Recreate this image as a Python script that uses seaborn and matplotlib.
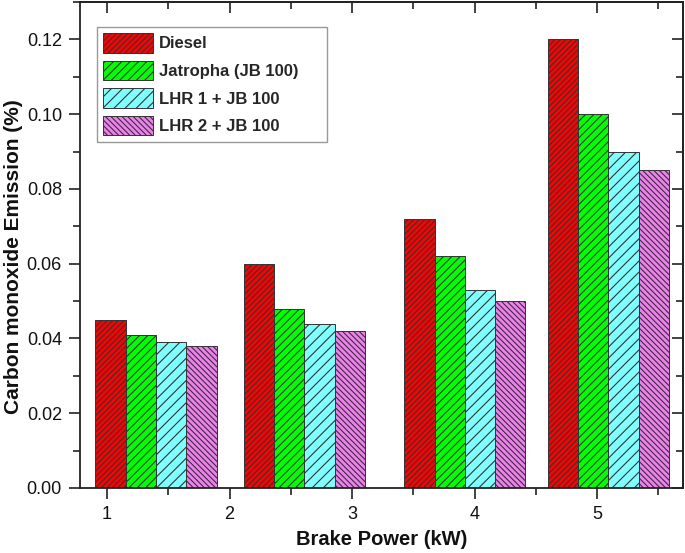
import numpy as np
import pandas as pd
import matplotlib
matplotlib.use("Agg")
import matplotlib.pyplot as plt
from matplotlib.ticker import MultipleLocator
import seaborn as sns

# --- data ---
brake_power = [1.40, 2.61, 3.92, 5.09]   # group centres on the kW axis
series = ["Diesel", "Jatropha (JB 100)", "LHR 1 + JB 100", "LHR 2 + JB 100"]
diesel = [0.045, 0.060, 0.072, 0.120]
jatropha = [0.041, 0.048, 0.062, 0.100]
lhr1 = [0.039, 0.044, 0.053, 0.090]
lhr2 = [0.038, 0.042, 0.050, 0.085]
x_ticks = [1, 2, 3, 4, 5]
y_ticks = [0.00, 0.02, 0.04, 0.06, 0.08, 0.10, 0.12]

# --- style ---
colors = ["#ff0000", "#00ff00", "#80ffff", "#f080f0"]
hatches = ["//////", "////", "///", "\\\\\\\\\\\\"]
bar_width = 0.247
axis_color = "#222222"

sns.set_theme(style="ticks")
plt.rcParams["font.family"] = ["Liberation Sans", "DejaVu Sans"]
plt.rcParams["hatch.linewidth"] = 0.8

df = pd.DataFrame({
    "Brake Power": np.tile(brake_power, len(series)),
    "Fuel": np.repeat(series, len(brake_power)),
    "CO": diesel + jatropha + lhr1 + lhr2,
})

fig = plt.figure(figsize=(6.85, 5.53), dpi=100)
ax = fig.add_axes([80 / 685, 1 - 488 / 553, 603 / 685, 486 / 553])

native = np.min(np.diff(sorted(brake_power)))
sns.barplot(
    data=df, x="Brake Power", y="CO", hue="Fuel", hue_order=series,
    native_scale=True, width=len(series) * bar_width / native,
    palette=colors, errorbar=None, legend=False,
    edgecolor="#333333", linewidth=0.7, saturation=1, ax=ax,
)

for cont, h in zip(ax.containers, hatches):
    for p in cont:
        p.set_hatch(h)

ax.set_xlim(0.78, 5.70)
ax.set_ylim(0, 0.13)
ax.set_xticks(x_ticks)
ax.set_yticks(y_ticks)
ax.set_xticklabels([str(t) for t in x_ticks])
ax.set_yticklabels([f"{t:.2f}" for t in y_ticks])
ax.xaxis.set_minor_locator(MultipleLocator(0.5))
ax.yaxis.set_minor_locator(MultipleLocator(0.01))
ax.tick_params(which="major", direction="out", length=8, width=1.2,
               color=axis_color, labelsize=13, pad=5, labelcolor="#111111")
ax.tick_params(which="minor", direction="out", length=5, width=1.2,
               color=axis_color)

for s in ax.spines.values():
    s.set_linewidth(1.3)
    s.set_color(axis_color)

# mirrored ticks pointing inwards on top and right
top = ax.secondary_xaxis("top")
top.set_xticks(x_ticks)
top.xaxis.set_minor_locator(MultipleLocator(0.5))
top.tick_params(which="major", direction="in", length=8, width=1.2,
                color=axis_color, labeltop=False)
top.tick_params(which="minor", direction="in", length=5, width=1.2,
                color=axis_color)
right = ax.secondary_yaxis("right")
right.set_yticks(y_ticks)
right.yaxis.set_minor_locator(MultipleLocator(0.01))
right.tick_params(which="major", direction="in", length=8, width=1.2,
                  color=axis_color, labelright=False)
right.tick_params(which="minor", direction="in", length=5, width=1.2,
                  color=axis_color)
for sec in (top, right):
    for s in sec.spines.values():
        s.set_linewidth(1.3)
        s.set_color(axis_color)

ax.set_xlabel("Brake Power (kW)", fontsize=14.5, fontweight="bold",
              labelpad=5, color="#111111")
ax.set_ylabel("Carbon monoxide Emission (%)", fontsize=15, fontweight="bold",
              color="#111111")
ax.yaxis.set_label_coords(-0.095, 0.477)

# legend box stretched to the width of the original frame
leg_top = 1 - 25 / 486
handles = [cont.patches[0] for cont in ax.containers]
leg = ax.legend(
    handles, series, loc="upper left",
    bbox_to_anchor=(17 / 603, leg_top - 0.3, 230 / 603, 0.3), mode="expand",
    borderaxespad=0, prop={"weight": "bold", "size": 12},
    handlelength=2.95, handleheight=1.4, labelspacing=0.5,
    handletextpad=0.4, borderpad=0.38, fancybox=False, framealpha=1,
    edgecolor="#999999",
)
leg.get_frame().set_linewidth(1.0)

fig.savefig("out.png", dpi=100)
